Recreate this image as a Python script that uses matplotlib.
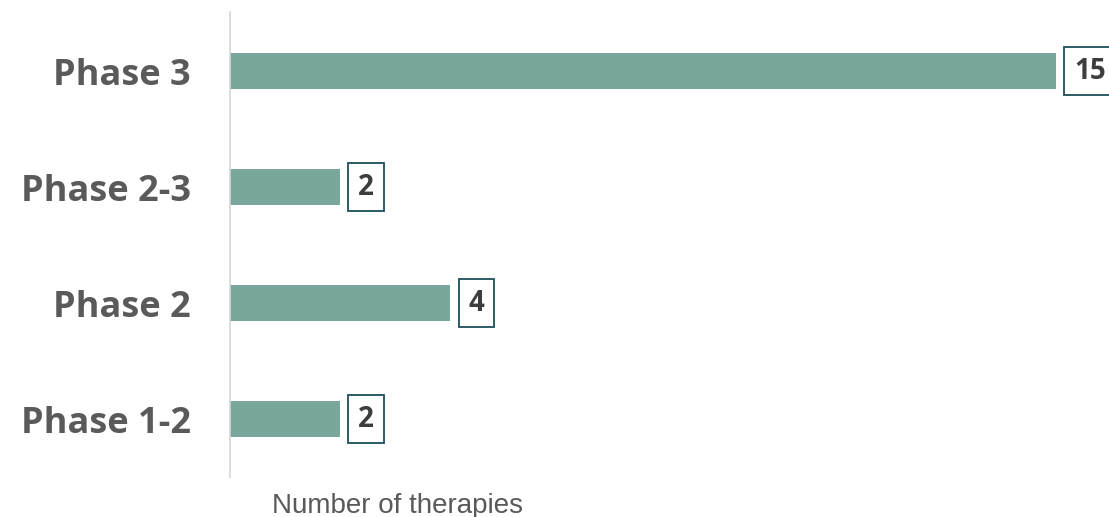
import matplotlib
matplotlib.use("Agg")
import matplotlib.pyplot as plt

categories = ["Phase 1-2", "Phase 2", "Phase 2-3", "Phase 3"]
values = [2, 4, 2, 15]
xlabel = "Number of therapies"

W, H = 1109, 517
fig = plt.figure(figsize=(W/100, H/100), dpi=100)
ax = fig.add_axes([230/W, 1-477/H, (W-230)/W, 465/H])

bar_color = "#7aa79c"
ax.barh(range(len(categories)), values, height=0.31, color=bar_color)
ax.set_xlim(0, (W-230)/55.07)
ax.set_ylim(-0.5, 3.51)
ax.set_yticks(range(len(categories)))
ax.set_yticklabels(categories, fontsize=26, fontweight="bold",
                   fontfamily="Open Sans", color="#5a5a5a")
ax.tick_params(axis="y", length=0, pad=28)
ax.set_xticks([])
for s in ["top", "right", "bottom"]:
    ax.spines[s].set_visible(False)
ax.spines["left"].set_color("#d6d6d6")
ax.spines["left"].set_linewidth(1.2)

for i, v in enumerate(values):
    ax.annotate(str(v), xy=(v, i), xytext=(13, 0), textcoords="offset points",
                ha="left", va="center", fontsize=20, fontweight="bold",
                fontfamily="Open Sans", color="#3d3d3d",
                bbox=dict(boxstyle="square,pad=0.35", fc="white",
                          ec="#1e4e5c", lw=1.3),
                annotation_clip=False)

fig.text(272/W, 1-513/H, xlabel, fontsize=20, fontfamily="Liberation Sans",
         color="#595959", va="baseline", ha="left")

fig.savefig("out.png", dpi=100)
